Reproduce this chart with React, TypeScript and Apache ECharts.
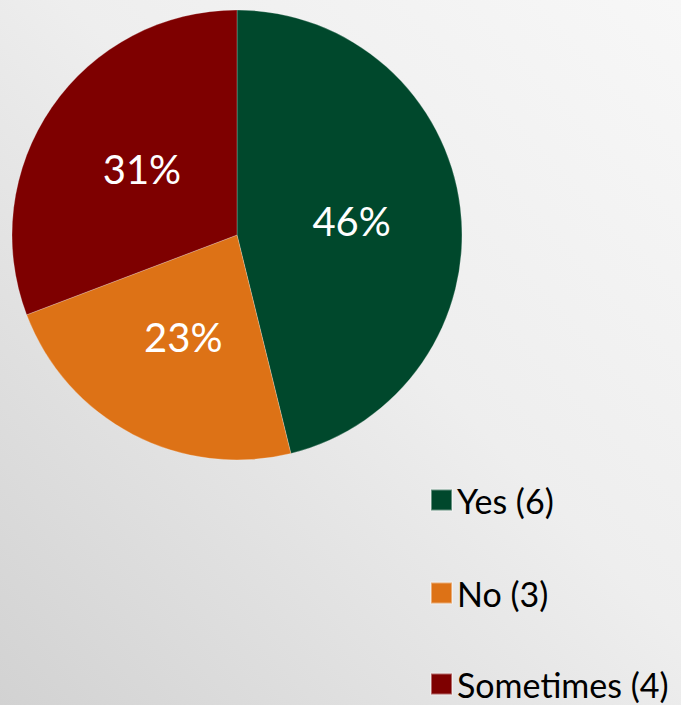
import React, { useEffect, useRef } from "react";
import * as echarts from "echarts";

const categories = ["Yes (6)", "No (3)", "Sometimes (4)"];
const counts = [6, 3, 4];
const colors = ["#00482c", "#dd7216", "#7e0000"];

export default function App() {
  const ref = useRef<HTMLDivElement>(null);
  useEffect(() => {
    if (!ref.current) return;
    const chart = echarts.init(ref.current, null, { renderer: "svg" });
    const legendTops = [483, 576, 667];
    chart.setOption({
      animation: false,
      backgroundColor: new echarts.graphic.LinearGradient(1, 0, 0, 1, [
        { offset: 0, color: "#f7f7f7" },
        { offset: 0.45, color: "#eeeeee" },
        { offset: 1, color: "#d2d2d2" },
      ]),
      legend: categories.map((name, i) => ({
        orient: "vertical",
        left: 430,
        top: legendTops[i],
        padding: 0,
        itemWidth: 21,
        itemHeight: 21,
        icon: "rect",
        data: [name],
        textStyle: {
          fontFamily: "Lato",
          fontSize: 34,
          lineHeight: 32,
          color: "#000",
        },
      })),
      series: [
        {
          type: "pie",
          center: [237, 235],
          radius: [0, 225],
          startAngle: 90,
          clockwise: true,
          silent: true,
          label: {
            show: true,
            position: "inner",
            formatter: (p: any) => Math.round(p.percent) + "%",
            color: "#ffffff",
            fontFamily: "Lato",
            fontSize: 40,
          },
          labelLine: { show: false },
          itemStyle: { borderColor: "rgba(255,255,255,0.4)", borderWidth: 0.6 },
          data: categories.map((name, i) => ({
            name,
            value: counts[i],
            itemStyle: { color: colors[i] },
          })),
        },
      ],
    });
    return () => chart.dispose();
  }, []);
  return (
    <div
      ref={ref}
      style={{ position: "fixed", left: 0, top: 0, width: 681, height: 705 }}
    />
  );
}
